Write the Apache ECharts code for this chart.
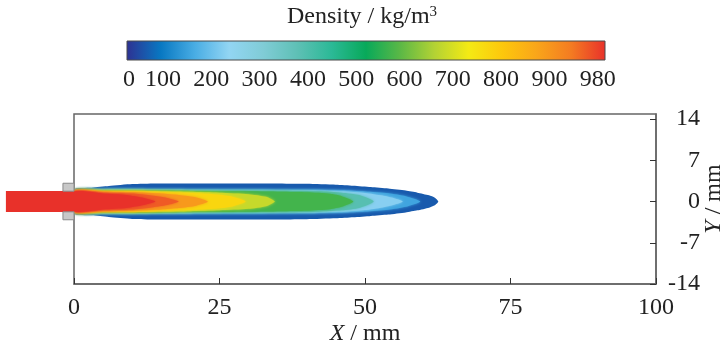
<!DOCTYPE html>
<html>
<head>
<meta charset="utf-8">
<script src="https://cdn.jsdelivr.net/npm/echarts@6/dist/echarts.min.js"></script>
<style>
  html, body { margin: 0; padding: 0; background: #fff; }
  #chart { width: 725px; height: 350px; }
</style>
</head>
<body>
<div id="chart"></div>
<script>
// ---- Density colour scale (kg/m3), colours evenly spaced from min to max ----
const densityMin = 0;
const densityMax = 980;
const scaleColors = ['#2e3192', '#0878c2', '#49ade4', '#92d5f3', '#80ccd6', '#5ec0b5', '#2bb996',
  '#08a95a', '#5bb846', '#b3d234', '#f4ea14', '#fdc70c', '#f9a51a', '#f47b22', '#e8312a'];
const scaleLabels = ['0', '100', '200', '300', '400', '500', '600', '700', '800', '900', '980'];

// ---- Axis ticks (mm) ----
const xTicks = [0, 25, 50, 75, 100];
const yTicks = [-14, -7, 0, 7, 14];

// ---- Spray density field: iso-density outlines, [X mm, half-width mm] ----
const iso40 = [[0, 2.05], [3, 2.35], [6, 2.62], [10, 2.95], [14, 3.05], [20, 3.05], [30, 3.05], [40, 3.0],
  [45, 2.85], [48, 2.68], [51, 2.45], [54, 2.2], [57, 1.85], [59, 1.5], [61, 1.05], [62, 0.65], [62.6, 0]];
const iso130 = [[0, 1.88], [5, 2.1], [10, 2.1], [15, 2.05], [25, 2.02], [40, 1.98], [46, 1.9], [50, 1.7],
  [54, 1.4], [57, 0.9], [59.5, 0]];
const iso200 = [[0, 1.85], [5, 2.0], [10, 2.03], [15, 1.98], [25, 1.93], [40, 1.88], [46, 1.75], [50, 1.45],
  [53, 1.0], [55, 0.55], [56.5, 0]];
const iso360 = [[0, 1.83], [5, 1.95], [10, 1.97], [15, 1.92], [25, 1.87], [35, 1.82], [42, 1.72], [46, 1.5],
  [49, 1.1], [51.5, 0]];
const iso540 = [[0, 1.81], [5, 1.88], [10, 1.9], [15, 1.85], [20, 1.8], [30, 1.72], [40, 1.55], [44, 1.3],
  [46, 0.9], [48, 0]];
const iso650 = [[0, 1.79], [5, 1.82], [10, 1.82], [15, 1.75], [20, 1.65], [25, 1.5], [30, 1.25], [33, 0.8],
  [34.5, 0]];
const iso740 = [[0, 1.77], [5, 1.75], [10, 1.72], [15, 1.6], [20, 1.45], [24, 1.25], [27, 0.9], [29.5, 0]];
const iso860 = [[0, 1.75], [5, 1.65], [10, 1.55], [15, 1.35], [18, 1.1], [21, 0.7], [23, 0]];
const iso940 = [[0, 1.72], [5, 1.5], [10, 1.35], [13, 1.05], [16, 0.6], [18, 0]];
const iso980 = [[0, 1.65], [5, 1.35], [9, 1.1], [12, 0.6], [14, 0]];

const bandValues = [40, 130, 200, 360, 540, 650, 740, 860, 940, 980];
const bandOutlines = [iso40, iso130, iso200, iso360, iso540, iso650, iso740, iso860, iso940, iso980];

// ---- Liquid column upstream of the nozzle exit ----
const columnDensity = 980;
const columnExtent = [-11.7, 0];   // X range, mm
const columnRadius = 1.8;          // mm

// ---- Nozzle lip: X range and radial range, mm ----
const nozzleExtent = [-1.9, 0];
const nozzleRadii = [1.75, 3.1];

const serif = '"Liberation Serif", "Times New Roman", serif';
const textColor = '#222';

const chart = echarts.init(document.getElementById('chart'), null, { renderer: 'canvas' });

function outlinePoints(api, outline) {
  const upper = outline.map(p => api.coord([p[0], p[1]]));
  const lower = outline.slice().reverse().filter(p => p[1] > 0).map(p => api.coord([p[0], -p[1]]));
  return upper.concat(lower);
}

// colour bar built from the same scale colours
const barLeft = 127, barTop = 41, barWidth = 478, barHeight = 19;
const barStops = scaleColors.map((c, i) => ({ offset: i / (scaleColors.length - 1), color: c }));
const labelElements = scaleLabels.map((t, i) => ({
  type: 'text',
  x: i === 0 ? 129 : 163 + (i - 1) * 48.3,
  y: 80,
  style: {
    text: t, font: '24px ' + serif, fill: textColor,
    textAlign: 'center', textVerticalAlign: 'middle'
  }
}));

const option = {
  animation: false,
  backgroundColor: '#fff',
  grid: {
    left: 74, right: 69, top: 114, bottom: 66,
    outerBoundsMode: 'none', containLabel: false,
    show: true, borderColor: '#666', borderWidth: 1.5, backgroundColor: 'transparent'
  },
  visualMap: {
    type: 'continuous', show: false,
    min: densityMin, max: densityMax,
    dimension: 0, seriesIndex: [0, 1],
    inRange: { color: scaleColors }
  },
  xAxis: {
    type: 'value', min: 0, max: 100, interval: 25,
    axisLine: { onZero: false, lineStyle: { color: '#666', width: 1.5 } },
    axisTick: { inside: true, length: 6, lineStyle: { color: '#333' } },
    axisLabel: { margin: 12, fontFamily: serif, fontSize: 24, color: textColor,
      customValues: xTicks },
    splitLine: { show: false },
    name: '{i|X} / mm', nameLocation: 'middle', nameGap: 38,
    nameTextStyle: { fontFamily: serif, fontSize: 24, color: textColor,
      rich: { i: { fontFamily: serif, fontSize: 24, fontStyle: 'italic', color: textColor } } }
  },
  yAxis: {
    type: 'value', min: -14, max: 14.85, position: 'right',
    axisLine: { onZero: false, lineStyle: { color: '#666', width: 1.5 } },
    axisTick: { inside: true, length: 6, lineStyle: { color: '#333' }, customValues: yTicks },
    axisLabel: { margin: 44, align: 'right', fontFamily: serif, fontSize: 24, color: textColor,
      customValues: yTicks },
    splitLine: { show: false }
  },
  series: [
    {
      // spray density bands, low density outermost
      type: 'custom', name: 'spray', z: 3, clip: false,
      encode: { x: -1, y: -1 },
      data: bandValues.map((v, i) => [v, i]),
      renderItem(params, api) {
        const idx = api.value(1);
        const color = api.visual('color');
        return {
          type: 'polygon',
          shape: { points: outlinePoints(api, bandOutlines[idx]), smooth: 0.2 },
          style: { fill: color, shadowBlur: idx === 0 ? 0 : 3, shadowColor: color }
        };
      }
    },
    {
      // intact liquid column
      type: 'custom', name: 'column', z: 4, clip: false,
      encode: { x: -1, y: -1 },
      data: [[columnDensity]],
      renderItem(params, api) {
        const p0 = api.coord([columnExtent[0], columnRadius]);
        const p1 = api.coord([columnExtent[1], -columnRadius]);
        return {
          type: 'rect',
          shape: { x: p0[0], y: p0[1], width: p1[0] - p0[0], height: p1[1] - p0[1] },
          style: { fill: api.visual('color') }
        };
      }
    },
    {
      // nozzle lip
      type: 'custom', name: 'nozzle', z: 5, clip: false,
      encode: { x: -1, y: -1 },
      data: [[1], [-1]],
      renderItem(params, api) {
        const s = api.value(0);
        const a = api.coord([nozzleExtent[0], s * nozzleRadii[1]]);
        const b = api.coord([nozzleExtent[1], s * nozzleRadii[0]]);
        return {
          type: 'rect',
          shape: { x: Math.min(a[0], b[0]), y: Math.min(a[1], b[1]),
            width: Math.abs(b[0] - a[0]), height: Math.abs(b[1] - a[1]) },
          style: { fill: '#c8c8c8', stroke: '#8a8a8a', lineWidth: 1 }
        };
      }
    }
  ],
  graphic: [
    {
      type: 'text', x: 362, y: 17,
      style: {
        text: 'Density / kg/m{s|3}', font: '24px ' + serif, fill: textColor,
        textAlign: 'center', textVerticalAlign: 'middle',
        rich: { s: { fontFamily: serif, fontSize: 15, fill: textColor, verticalAlign: 'top', padding: [0, 0, 10, 0] } }
      }
    },
    {
      // vertical axis title, reading bottom to top
      type: 'text', x: 714, y: 199, rotation: Math.PI / 2,
      style: {
        text: '{i|Y} / mm', font: '24px ' + serif, fill: textColor,
        textAlign: 'center', textVerticalAlign: 'middle',
        rich: { i: { fontFamily: serif, fontSize: 24, fontStyle: 'italic', fill: textColor } }
      }
    },
    {
      type: 'rect',
      shape: { x: barLeft, y: barTop, width: barWidth, height: barHeight },
      style: {
        fill: new echarts.graphic.LinearGradient(0, 0, 1, 0, barStops),
        stroke: '#4a4a4a', lineWidth: 1
      }
    }
  ].concat(labelElements)
};

chart.setOption(option);
</script>
</body>
</html>
